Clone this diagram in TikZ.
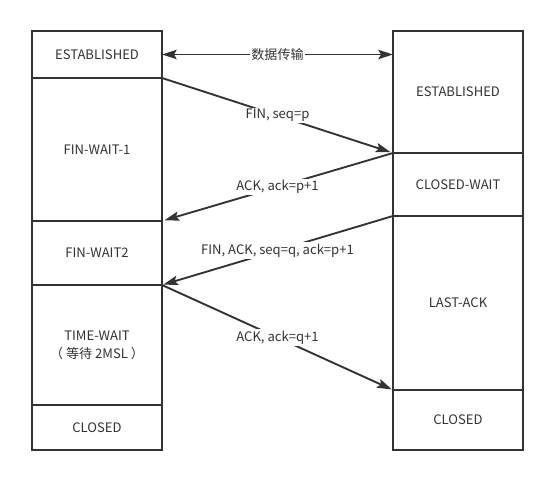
\documentclass[tikz,border=0pt]{standalone}
\usepackage{fontspec}
\setmainfont{Noto Sans CJK SC}
\usetikzlibrary{arrows.meta,
                positioning}

\definecolor{linegray}{HTML}{333333}

\begin{document}
\begin{tikzpicture}[
        x=0.75pt, y=-0.75pt,
        node distance=0pt,
        state/.style={rectangle, minimum width=97.5pt, text centered, align=center, draw=linegray, line width=1.5pt, outer sep=0pt, inner sep=0pt, text=linegray, font=\fontsize{9.8}{13.5}\selectfont},
        msg/.style={fill=white, inner sep=1pt, text=linegray, font=\fontsize{9.8}{13.5}\selectfont},
        link/.style={line width=1.4pt, draw=linegray, arrows=-{Stealth[length=11pt, width=7pt, inset=2pt]}}
        ]

        \useasboundingbox (0,0) rectangle (556,477);

        % client side
        \node (cest)   [state, minimum height=35.25pt, anchor=north] at (97,31) {ESTABLISHED};
        \node (cfw1)   [state, minimum height=107.25pt, below=of cest]          {FIN-WAIT-1};
        \node (cfw2)   [state, minimum height=48pt, below=of cfw1]              {FIN-WAIT2};
        \node (ctw)    [state, minimum height=90pt, below=of cfw2]              {TIME-WAIT\\（ 等待 2MSL ）};
        \node (cclosed)[state, minimum height=33.75pt, below=of ctw]            {CLOSED};

        % server side
        \node (sest)   [state, minimum height=91.5pt, anchor=north] at (458,31) {ESTABLISHED};
        \node (scw)    [state, minimum height=47.25pt, below=of sest]           {CLOSED-WAIT};
        \node (slack)  [state, minimum height=130.5pt, below=of scw]            {LAST-ACK};
        \node (sclosed)[state, minimum height=45pt, below=of slack]             {CLOSED};

        \draw [link, arrows={Stealth[length=11pt, width=7pt, inset=2pt]-Stealth[length=11pt, width=7pt, inset=2pt]}]
              (cest.east) -- node[msg] {数据传输} (cest.east -| sest.west);
        \draw [link, shorten >=2pt] (cest.south east) -- node[msg] {FIN, seq=p}               (sest.south west);
        \draw [link, shorten >=2pt] (sest.south west) -- node[msg] {ACK, ack=p+1}             (cfw1.south east);
        \draw [link, shorten >=1pt] (scw.south west)  -- node[msg] {FIN, ACK, seq=q, ack=p+1} (cfw2.south east);
        \draw [link, shorten >=1pt] (cfw2.south east) -- node[msg] {ACK, ack=q+1}             (slack.south west);

    \end{tikzpicture}
\end{document}
